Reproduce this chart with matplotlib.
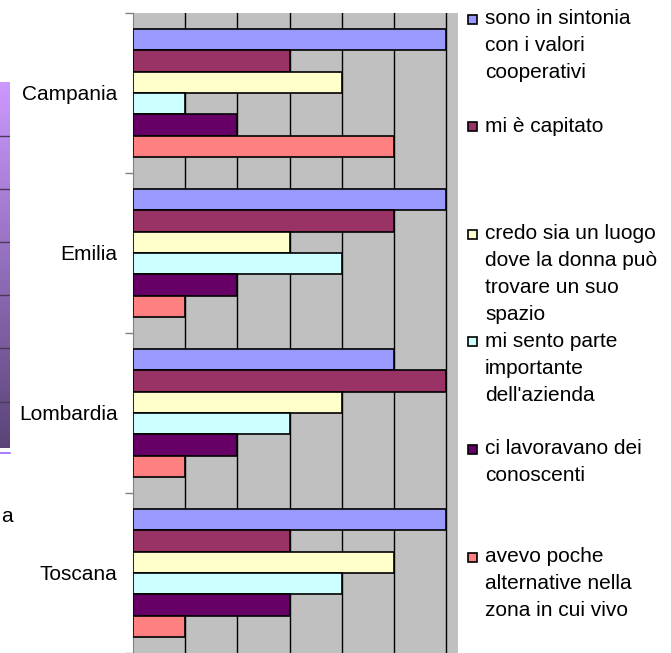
import matplotlib.pyplot as plt
import numpy as np
from matplotlib.patches import Rectangle

plt.rcParams['font.family'] = ['Liberation Sans', 'DejaVu Sans']

regioni = ['Campania', 'Emilia', 'Lombardia', 'Toscana']
risposte = ['sono in sintonia\ncon i valori\ncooperativi',
            'mi è capitato',
            'credo sia un luogo\ndove la donna può\ntrovare un suo\nspazio',
            'mi sento parte\nimportante\ndell\'azienda',
            'ci lavoravano dei\nconoscenti',
            'avevo poche\nalternative nella\nzona in cui vivo']
colori = ['#9999FF', '#993366', '#FFFFCC', '#CCFFFF', '#660066', '#FF8080']

# valori per regione, una lista per risposta
sintonia = [6, 6, 5, 6]
capitato = [3, 5, 6, 3]
luogo_donna = [4, 3, 4, 5]
parte_importante = [1, 4, 3, 4]
conoscenti = [2, 2, 2, 3]
poche_alternative = [5, 1, 1, 1]
serie = [sintonia, capitato, luogo_donna, parte_importante, conoscenti, poche_alternative]

W, H = 671, 653
fig = plt.figure(figsize=(W / 100, H / 100), dpi=100)

# pezzo di un altro grafico sul bordo sinistro
ax0 = fig.add_axes([0, 1 - 448 / H, 10 / W, (448 - 82) / H])
grad = np.linspace(0, 1, 256).reshape(-1, 1)
cmap = plt.matplotlib.colors.LinearSegmentedColormap.from_list('viola', ['#CC99FF', '#5A4478'])
ax0.imshow(grad, aspect='auto', cmap=cmap, extent=[0, 1, 448, 82])
for yy in [136, 189, 242, 295, 348, 402]:
    ax0.axhline(yy, color='#4A3A5A', lw=1)
ax0.set_xlim(0, 1)
ax0.set_ylim(448, 82)
ax0.axis('off')
fig.add_artist(plt.Line2D([0, 10 / W], [1 - 453 / H, 1 - 453 / H], color='#9966FF', lw=1.2))
fig.text(1 / W, 1 - 517 / H, 'a', ha='left', va='center', fontsize=15)

# grafico principale
ax = fig.add_axes([133 / W, 0, (458 - 133) / W, (H - 13) / H])
ax.set_facecolor('#C0C0C0')
h = 0.134
y = np.arange(len(regioni))
for j, vals in enumerate(serie):
    ax.barh(y + (j - 2.5) * h, vals, height=h, color=colori[j],
            edgecolor='black', linewidth=1.2, zorder=3)

ax.set_xlim(0, 6.23)
ax.set_ylim(len(regioni) - 0.5, -0.5)
ax.set_xticks(range(1, 7))
ax.xaxis.grid(True, color='black', lw=1, zorder=0)
ax.tick_params(axis='x', length=0, labelbottom=False)
ax.set_yticks(y)
ax.set_yticklabels(regioni, fontsize=15)
ax.set_yticks(np.arange(-0.5, len(regioni), 1), minor=True)
ax.tick_params(axis='y', which='major', length=0, pad=11)
ax.tick_params(axis='y', which='minor', length=6, color='#808080', width=1)
for s in ['top', 'right', 'bottom']:
    ax.spines[s].set_visible(False)
ax.spines['left'].set_color('#808080')

# legenda
for i, (lab, col) in enumerate(zip(risposte, colori)):
    yc = 19 + 107.6 * i
    fig.add_artist(Rectangle((468 / W, 1 - (yc + 4.5) / H), 9 / W, 9 / H,
                             facecolor=col, edgecolor='black', lw=1.2))
    fig.text(485 / W, 1 - (yc - 10) / H, lab, ha='left', va='top',
             fontsize=15, linespacing=1.53)

fig.savefig('out.png', dpi=100)
